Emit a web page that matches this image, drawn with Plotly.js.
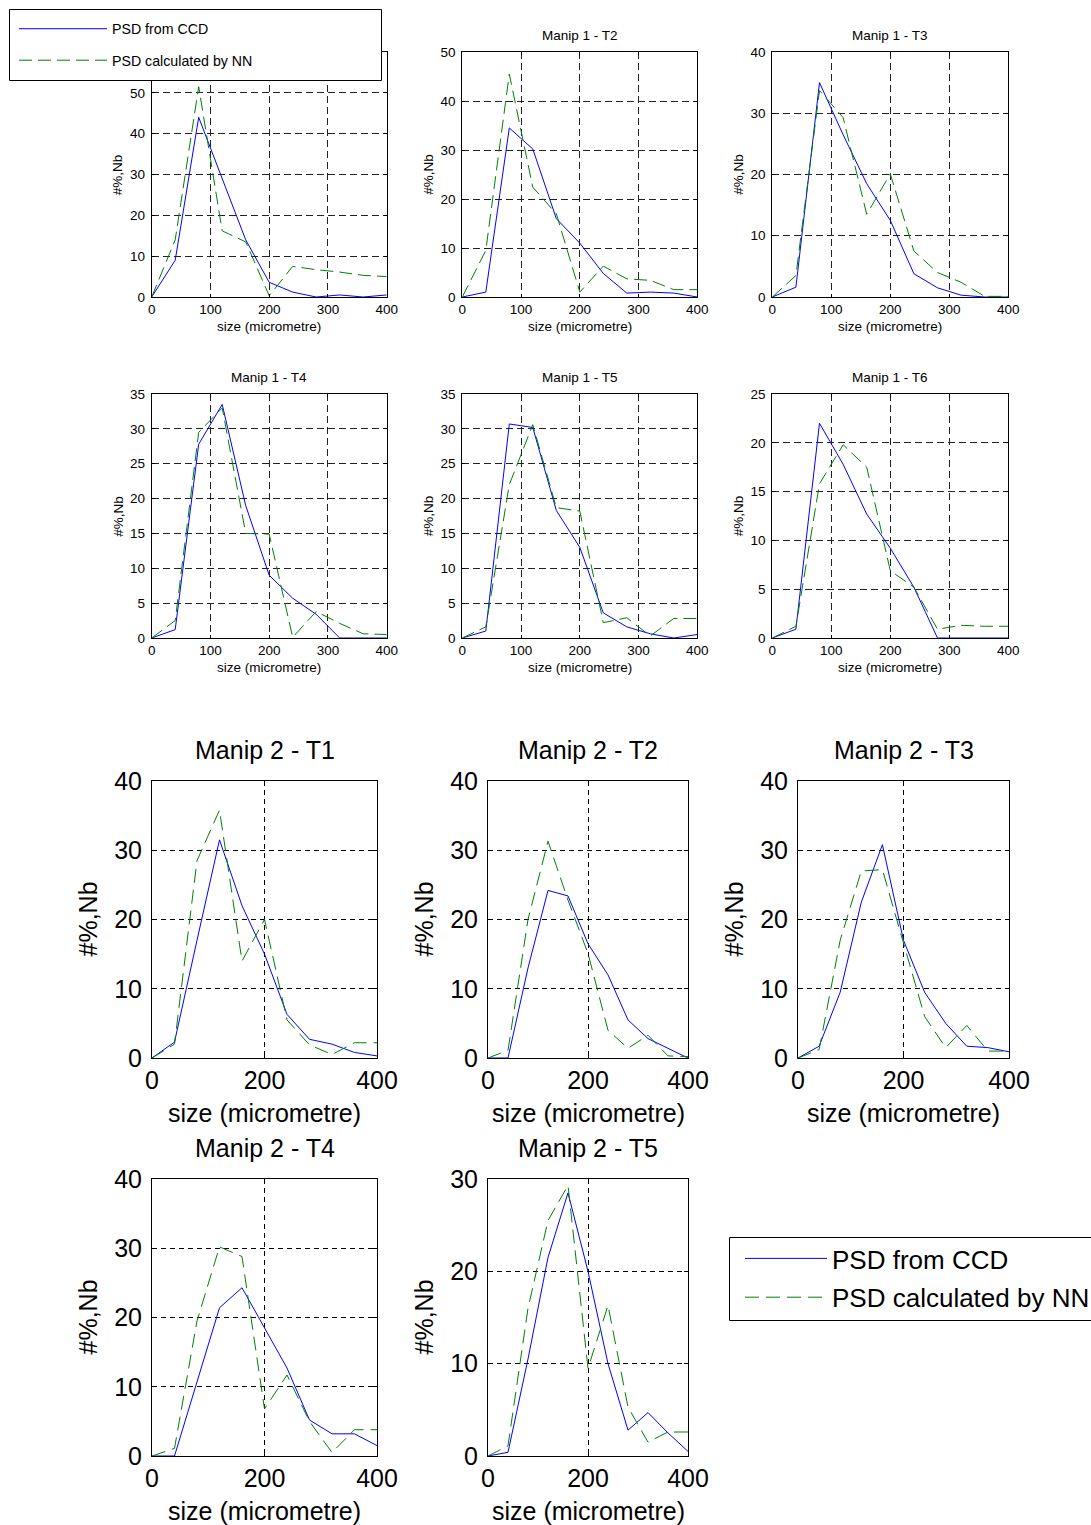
<!DOCTYPE html>
<html><head><meta charset="utf-8">
<script src="https://cdn.plot.ly/plotly-3.0.1.min.js"></script>
<style>html,body{margin:0;padding:0;background:#fff}</style>
</head><body><div id="chart" style="width:1091px;height:1525px"></div>
<script>
// ---------------- DATA ----------------
const sizes = [0, 40, 80, 120, 160, 200, 240, 280, 320, 360, 400];
const seriesNames = ['PSD from CCD', 'PSD calculated by NN'];
const panelTitles = ['Manip 1 - T1','Manip 1 - T2','Manip 1 - T3','Manip 1 - T4','Manip 1 - T5','Manip 1 - T6',
                     'Manip 2 - T1','Manip 2 - T2','Manip 2 - T3','Manip 2 - T4','Manip 2 - T5'];
const xLabel = 'size (micrometre)';
const yLabel = '#%,Nb';

const m1t1_ccd = [0, 9, 44, 29, 14, 3.6, 1.2, 0, 0.5, 0, 0.5];
const m1t1_nn  = [0, 14, 51.5, 16.2, 13.5, 0.3, 7.5, 6.7, 6.1, 5.3, 5.0];
const m1t2_ccd = [0, 1, 34.5, 30.2, 16, 11, 4.8, 0.8, 1.0, 0.8, 0];
const m1t2_nn  = [0, 9.5, 45.5, 22.4, 17, 1, 6.3, 3.7, 3.4, 1.5, 1.5];
const m1t3_ccd = [0, 1.6, 35, 26.5, 18.5, 12.5, 3.8, 1.5, 0.3, 0, 0];
const m1t3_nn  = [0, 3.5, 33.7, 29.3, 13.5, 20.1, 7.5, 4.0, 2.4, 0.1, 0.1];
const m1t4_ccd = [0, 1.2, 27.8, 33.5, 19, 9, 5.7, 3.4, 0, 0, 0];
const m1t4_nn  = [0, 2.5, 29.5, 33, 15, 14.9, 0.1, 3.8, 2.1, 0.6, 0.5];
const m1t5_ccd = [0, 1.0, 30.7, 30.2, 18.3, 13, 3.6, 1.6, 0.6, 0, 0.5];
const m1t5_nn  = [0, 1.6, 22, 30.6, 18.7, 18.2, 2.2, 2.9, 0.3, 2.8, 2.8];
const m1t6_ccd = [0, 0.9, 22, 17.8, 12.7, 9.2, 5.2, 0, 0, 0, 0];
const m1t6_nn  = [0, 1.2, 15.8, 19.8, 17.5, 6.9, 5.2, 0.9, 1.3, 1.2, 1.2];
const m2t1_ccd = [0, 2.3, 17, 31.5, 22, 15, 6.3, 2.7, 2.0, 0.8, 0.3];
const m2t1_nn  = [0, 2.0, 28.5, 35.8, 14, 20, 5.5, 1.9, 0.5, 2.2, 2.2];
const m2t2_ccd = [0, 0, 13, 24.2, 23.4, 16.5, 12, 5.5, 2.8, 1.4, 0];
const m2t2_nn  = [0, 1.1, 20, 31.3, 22.8, 15.1, 4.0, 1.4, 3.3, 0.3, 0.2];
const m2t3_ccd = [0, 1.7, 9.5, 22.5, 30.8, 17, 9.5, 5, 1.7, 1.5, 0.9];
const m2t3_nn  = [0, 1.2, 17, 27, 27.2, 16.6, 6.0, 1.5, 4.7, 1.0, 1.0];
const m2t4_ccd = [0, 0, 10.7, 21.4, 24.3, 18.5, 12.7, 5.2, 3.2, 3.2, 1.5];
const m2t4_nn  = [0, 1.1, 19.5, 30.2, 28.8, 6.8, 11.7, 5.0, 0.5, 3.8, 3.8];
const m2t5_ccd = [0, 0.4, 10.5, 21.5, 28.5, 20, 10, 2.8, 4.7, 2.5, 0.5];
const m2t5_nn  = [0, 1.1, 16, 25.5, 29.3, 9.5, 16.3, 5.3, 1.5, 2.6, 2.6];

const ccdSeries = [m1t1_ccd, m1t2_ccd, m1t3_ccd, m1t4_ccd, m1t5_ccd, m1t6_ccd, m2t1_ccd, m2t2_ccd, m2t3_ccd, m2t4_ccd, m2t5_ccd];
const nnSeries  = [m1t1_nn, m1t2_nn, m1t3_nn, m1t4_nn, m1t5_nn, m1t6_nn, m2t1_nn, m2t2_nn, m2t3_nn, m2t4_nn, m2t5_nn];
const yMax  = [60, 50, 40, 35, 35, 25, 40, 40, 40, 40, 30];
const yStep = [10, 10, 10, 5, 5, 5, 10, 10, 10, 10, 10];
// highest y tick label shown (first panel's top label is hidden under the legend in the original)
const yTopLabel = [50, 50, 40, 35, 35, 25, 40, 40, 40, 40, 30];

// ---------------- LAYOUT ----------------
const W = 1091, H = 1525;
const F = 'Liberation Sans, Arial, Helvetica, sans-serif';
// plot boxes in pixels: left, right, top, bottom
const frames = [
  [151.7, 386.7, 52, 297], [462.3, 697.3, 52, 297], [772.3, 1008.3, 52, 297],
  [151.7, 386.7, 394, 638], [462.3, 697.3, 394, 638], [772.3, 1008.3, 394, 638],
  [152, 377, 781, 1058], [488, 688, 781, 1058], [798, 1009, 781, 1058],
  [152, 377, 1179, 1456], [488, 688, 1179, 1456]
];

const traces = [];
const layout = {
  width: W, height: H, margin: {l: 0, r: 0, t: 0, b: 0, autoexpand: false},
  paper_bgcolor: '#fff', plot_bgcolor: '#fff',
  font: {family: F, color: '#000'},
  annotations: [], shapes: [],
  showlegend: true
};

frames.forEach((fr, i) => {
  const [l, r, t, b] = fr;
  const big = i >= 6;
  const fs = big ? 25 : 13.5;
  const n = i + 1;
  const xa = 'x' + (n === 1 ? '' : n), ya = 'y' + (n === 1 ? '' : n);
  const xk = 'xaxis' + (n === 1 ? '' : n), yk = 'yaxis' + (n === 1 ? '' : n);
  const gridDash = big ? '5px,4px' : '7px,4px';
  const common = {
    showline: true, linecolor: '#000', linewidth: 1, mirror: 'ticks',
    ticks: 'inside', ticklen: big ? 4 : 3, tickcolor: '#000',
    showgrid: true, gridcolor: big ? '#000' : '#222', gridwidth: 1, griddash: gridDash,
    zeroline: false, tickfont: {family: F, size: fs, color: '#000'},
    fixedrange: true, automargin: false
  };
  const yTicks = [];
  for (let v = 0; v <= yTopLabel[i] + 1e-9; v += yStep[i]) yTicks.push(v);
  layout[xk] = Object.assign({}, common, {
    domain: [l / W, r / W], anchor: ya, range: [0, 400], dtick: big ? 200 : 100, tick0: 0
  });
  layout[yk] = Object.assign({}, common, {
    domain: [1 - b / H, 1 - t / H], anchor: xa, range: [0, yMax[i]],
    tickmode: 'array', tickvals: yTicks, ticktext: yTicks.map(String),
    ticklabelstandoff: big ? 4 : 3
  });
  const inL1 = (i === 0), inL2 = (i === 10);
  traces.push({
    x: sizes, y: ccdSeries[i], xaxis: xa, yaxis: ya, type: 'scatter', mode: 'lines',
    name: seriesNames[0], line: {color: '#0000ff', width: 1},
    showlegend: inL1 || inL2, legend: inL2 ? 'legend2' : 'legend',
    legendgroup: inL2 ? 'c2' : (inL1 ? 'c1' : undefined), hoverinfo: 'skip'
  });
  traces.push({
    x: sizes, y: nnSeries[i], xaxis: xa, yaxis: ya, type: 'scatter', mode: 'lines',
    name: seriesNames[1], line: {color: '#008000', width: 1, dash: big ? '14px,7px' : '13px,6px'},
    showlegend: inL1 || inL2, legend: inL2 ? 'legend2' : 'legend',
    legendgroup: inL2 ? 'n2' : (inL1 ? 'n1' : undefined), hoverinfo: 'skip'
  });
  const cx = (l + r) / 2 / W;
  // subplot title (first one is hidden under the legend in the original)
  if (i !== 0) {
    layout.annotations.push({
      text: panelTitles[i], xref: 'paper', yref: 'paper', x: cx,
      y: 1 - (t - (big ? 31 : 17)) / H, xanchor: 'center', yanchor: 'middle',
      showarrow: false, font: {family: F, size: fs, color: '#000'}
    });
  }
  // x label
  layout.annotations.push({
    text: xLabel, xref: 'paper', yref: 'paper', x: cx,
    y: 1 - (b + (big ? 55 : 30)) / H, xanchor: 'center', yanchor: 'middle',
    showarrow: false, font: {family: F, size: fs, color: '#000'}
  });
  // y label
  layout.annotations.push({
    text: yLabel, xref: 'paper', yref: 'paper', x: (l - (big ? 65 : 34)) / W,
    y: 1 - (t + b) / 2 / H, xanchor: 'center', yanchor: 'middle', textangle: -90,
    showarrow: false, font: {family: F, size: fs, color: '#000'}
  });
});

// legend boxes
layout.shapes.push({type: 'rect', xref: 'paper', yref: 'paper', layer: 'above',
  x0: 9.5 / W, x1: 381.5 / W, y0: 1 - 80.5 / H, y1: 1 - 9.5 / H,
  line: {color: '#000', width: 1}, fillcolor: '#fff'});
layout.shapes.push({type: 'rect', xref: 'paper', yref: 'paper', layer: 'above',
  x0: 729.5 / W, x1: 1100 / W, y0: 1 - 1320.5 / H, y1: 1 - 1237.5 / H,
  line: {color: '#000', width: 1}, fillcolor: '#fff'});

layout.legend = {
  x: 14 / W, y: 1 - 13 / H, xanchor: 'left', yanchor: 'top',
  bgcolor: 'rgba(0,0,0,0)', borderwidth: 0, font: {family: F, size: 14.2, color: '#000'},
  itemwidth: 88, tracegroupgap: 10, traceorder: 'grouped'
};
layout.legend2 = {
  x: 740 / W, y: 1 - 1235 / H, xanchor: 'left', yanchor: 'top',
  bgcolor: 'rgba(0,0,0,0)', borderwidth: 0, font: {family: F, size: 26, color: '#000'},
  itemwidth: 82, tracegroupgap: 2, traceorder: 'grouped'
};

Plotly.newPlot('chart', traces, layout, {displayModeBar: false, staticPlot: true});
</script>
</body></html>
